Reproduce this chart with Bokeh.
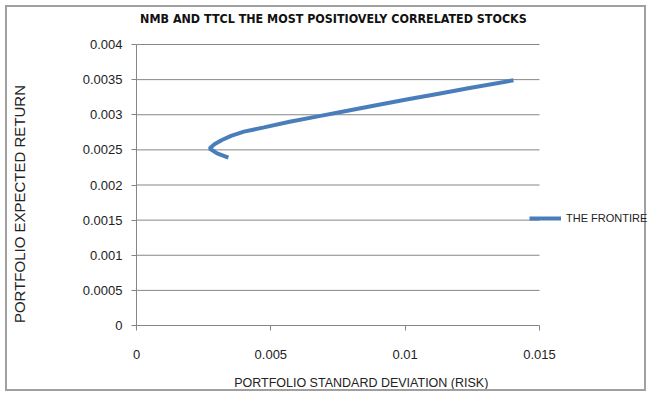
from bokeh.plotting import figure
from bokeh.models import Range1d, FixedTicker, Legend, LegendItem, Label
from bokeh.embed import file_html
from bokeh.resources import INLINE

# Efficient frontier of the NMB / TTCL two-stock portfolio
risk = [0.00342, 0.00300, 0.00272, 0.00290, 0.00318, 0.00352, 0.00400, 0.00475,
        0.00570, 0.00680, 0.00790, 0.00897, 0.01010, 0.01125, 0.01240, 0.01403]
expected_return = [0.00239, 0.00245, 0.00252, 0.00258, 0.00264, 0.00270, 0.00276, 0.00282,
                   0.00290, 0.00298, 0.00306, 0.00314, 0.00322, 0.00330, 0.00338, 0.00349]

x_ticks = [0, 0.005, 0.01, 0.015]
x_tick_labels = ["0", "0.005", "0.01", "0.015"]
y_ticks = [0, 0.0005, 0.001, 0.0015, 0.002, 0.0025, 0.003, 0.0035, 0.004]
y_tick_labels = ["0", "0.0005", "0.001", "0.0015", "0.002", "0.0025", "0.003", "0.0035", "0.004"]

title_text = "NMB AND TTCL THE MOST POSITIOVELY CORRELATED STOCKS"
x_title = "PORTFOLIO STANDARD DEVIATION (RISK)"
y_title = "PORTFOLIO EXPECTED RETURN"
series_name = "THE FRONTIRE"

GRAY = "#868686"
BLUE = "#4a7ebb"
NBSP = "\u00a0"

# The axes span 403 x 281 px; the frame reaches further right and up so the
# legend and the title can be drawn inside it, next to the axes.
AXIS_W, AXIS_H = 403, 281
FRAME_W, FRAME_H = 512, 318
x_end = x_ticks[-1] * FRAME_W / AXIS_W
y_end = y_ticks[-1] * FRAME_H / AXIS_H

p = figure(width=641, height=386, output_backend="svg", toolbar_location=None,
           title_location=None,
           x_range=Range1d(x_ticks[0], x_end), y_range=Range1d(y_ticks[0], y_end),
           min_border_left=129, min_border_right=0,
           min_border_top=0, min_border_bottom=68)
p.styles = {"border": "2px solid #a0a0a0", "margin-left": "5px", "margin-top": "5px"}
p.outline_line_color = None
p.background_fill_color = "white"
p.border_fill_color = "white"

# grid: horizontal lines only, limited to the axis extent
p.xgrid.grid_line_color = None
p.ygrid.grid_line_color = None
p.segment(x0=[x_ticks[0]] * len(y_ticks), x1=[x_ticks[-1]] * len(y_ticks),
          y0=y_ticks, y1=y_ticks, line_color=GRAY, line_width=1)

# axes
p.xaxis.ticker = FixedTicker(ticks=x_ticks)
p.yaxis.ticker = FixedTicker(ticks=y_ticks)
p.xaxis.bounds = (x_ticks[0], x_ticks[-1])
p.yaxis.bounds = (y_ticks[0], y_ticks[-1])
p.xaxis.major_label_overrides = dict(zip(x_ticks, x_tick_labels))
p.yaxis.major_label_overrides = dict(zip(y_ticks, y_tick_labels))
for ax in (p.xaxis[0], p.yaxis[0]):
    ax.axis_line_color = GRAY
    ax.major_tick_line_color = GRAY
    ax.minor_tick_line_color = None
    ax.major_tick_in = 0
    ax.major_tick_out = 5
    ax.major_label_text_font = "Liberation Sans"
    ax.major_label_text_font_size = "13px"
    ax.major_label_text_color = "#222222"
    ax.axis_label_text_font = "Liberation Sans"
    ax.axis_label_text_font_style = "normal"
    ax.axis_label_text_color = "#222222"

p.xaxis.major_label_standoff = 19
p.yaxis.major_label_standoff = 9
# trailing non-breaking spaces nudge the axis titles off-centre
p.xaxis.axis_label = x_title + NBSP * 18
p.xaxis.axis_label_text_font_size = "12.5px"
p.xaxis.axis_label_standoff = 14
p.yaxis.axis_label = y_title + NBSP * 18
p.yaxis.axis_label_text_font_size = "15px"
p.yaxis.axis_label_standoff = 52

# the frontier curve
r = p.line(risk, expected_return, line_color=BLUE, line_width=4)

# chart title
p.add_layout(Label(x=0.00733, y=0.00437, text=title_text,
                   text_font="DejaVu Sans Condensed", text_font_style="bold",
                   text_font_size="12.4px", text_color="#111111",
                   text_align="center", text_baseline="middle"))

legend = Legend(items=[LegendItem(label=series_name, renderers=[r])],
                location=(393, 100), padding=0, margin=0, spacing=0,
                glyph_width=32, glyph_height=14, label_height=14,
                label_standoff=5, label_text_font="Liberation Sans",
                label_text_font_size="11px", label_text_color="#222222",
                border_line_color=None, background_fill_alpha=0)
p.add_layout(legend)

open("out.html", "w").write(file_html(p, INLINE))
